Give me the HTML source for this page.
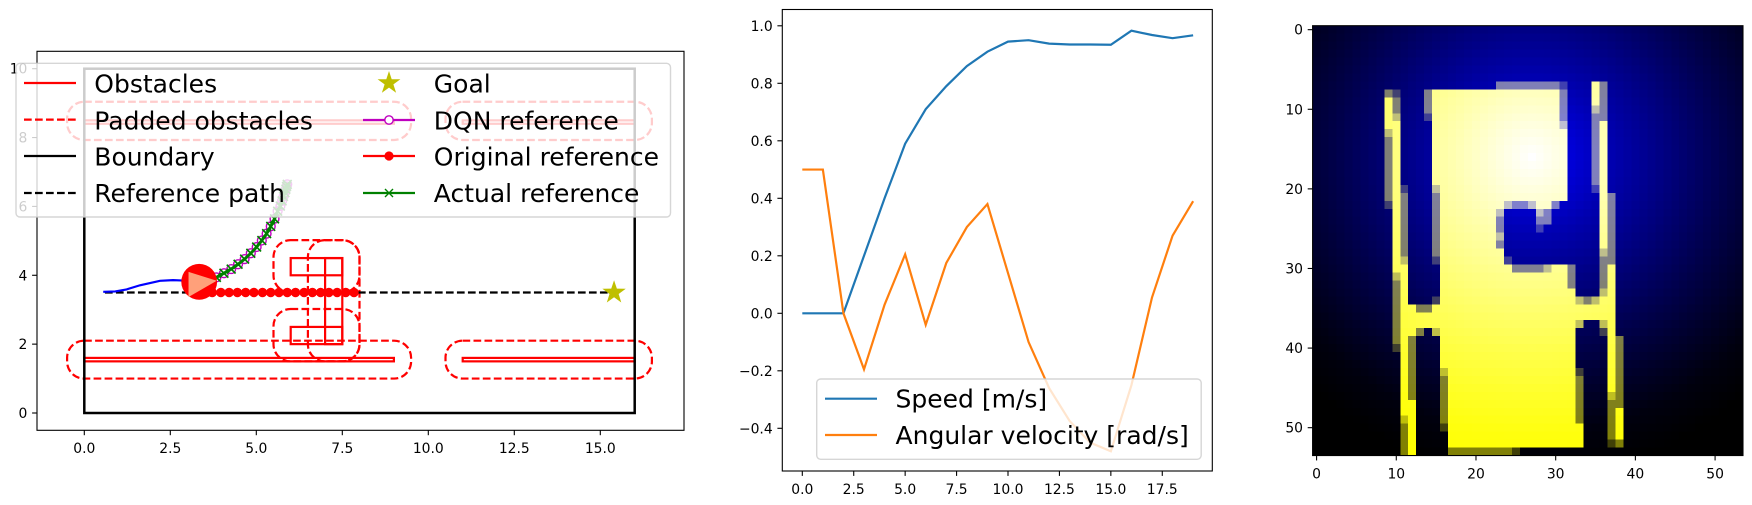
<!DOCTYPE html>
<html>
<head>
<meta charset="utf-8">
<title>Robot navigation charts</title>
<style>
html,body{margin:0;padding:0;background:#fff;width:1752px;height:505px;overflow:hidden}
svg{display:block}
text{font-family:"DejaVu Sans","Liberation Sans",sans-serif;fill:#000}
.tick{font-size:13.9px}
.leg{font-size:25px}
</style>
</head>
<body>
<svg xmlns="http://www.w3.org/2000/svg" width="1752" height="505" viewBox="0 0 1752 505">
  <rect x="0" y="0" width="1752" height="505" fill="#fff"/>

  <g id="map-chart"></g>
  <g>
    <rect x="16" y="63.3" width="654.5" height="153.7" rx="4" fill="#fff" fill-opacity="0.8" stroke="#ccc" stroke-opacity="0.8" stroke-width="1.4"/>
    <g>
      <line x1="24" x2="76" y1="83" y2="83" stroke="#f00" stroke-width="2.2"/>
      <text class="leg" x="94.3" y="92.6">Obstacles</text>
    </g>
    <g>
      <line x1="24" x2="76" y1="119.6" y2="119.6" stroke="#f00" stroke-width="2.2" stroke-dasharray="7.7 3.3"/>
      <text class="leg" x="94.3" y="129.4">Padded obstacles</text>
    </g>
    <g>
      <line x1="24" x2="76" y1="156" y2="156" stroke="#000" stroke-width="2.2"/>
      <text class="leg" x="94.3" y="165.6">Boundary</text>
    </g>
    <g>
      <line x1="24" x2="76" y1="193" y2="193" stroke="#000" stroke-width="2.2" stroke-dasharray="7.7 3.3"/>
      <text class="leg" x="94.3" y="202.2">Reference path</text>
    </g>
    <g>
      <polygon points="389,71 391.7,79.3 400.4,79.3 393.4,84.4 396.1,92.7 389,87.6 381.9,92.7 384.6,84.4 377.6,79.3 386.3,79.3" fill="#bfbf00"/>
      <text class="leg" x="433.8" y="92.6">Goal</text>
    </g>
    <g>
      <line x1="363" x2="415" y1="120" y2="120" stroke="#bf00bf" stroke-width="2.2"/>
      <circle cx="389" cy="120" r="4.2" fill="#fff" stroke="#bf00bf" stroke-width="1.4"/>
      <text class="leg" x="433.8" y="129.4">DQN reference</text>
    </g>
    <g>
      <line x1="363" x2="415" y1="156" y2="156" stroke="#f00" stroke-width="2.2"/>
      <circle cx="389" cy="156" r="4.6" fill="#f00"/>
      <text class="leg" x="433.8" y="165.6">Original reference</text>
    </g>
    <g>
      <line x1="363" x2="415" y1="193" y2="193" stroke="#008000" stroke-width="2.2"/>
      <path d="M385 189 L393 197 M393 189 L385 197" stroke="#008000" stroke-width="1.4" fill="none"/>
      <text class="leg" x="433.8" y="202.2">Actual reference</text>
    </g>
  </g>

  <g id="speed-chart"></g>
  <g>
    <rect x="816.7" y="379" width="384.5" height="80.3" rx="4" fill="#fff" fill-opacity="0.8" stroke="#ccc" stroke-opacity="0.8" stroke-width="1.4"/>
    <g>
      <line x1="825" x2="877" y1="398.7" y2="398.7" stroke="#1f77b4" stroke-width="2.2"/>
      <text class="leg" x="895.5" y="407.5">Speed [m/s]</text>
    </g>
    <g>
      <line x1="825" x2="877" y1="435" y2="435" stroke="#ff7f0e" stroke-width="2.2"/>
      <text class="leg" x="895.5" y="444">Angular velocity [rad/s]</text>
    </g>
  </g>

  <g id="heatmap-chart"></g>
</svg>

<script>
// ---------- Map panel data ----------
const mapXTicks = [0, 2.5, 5, 7.5, 10, 12.5, 15];
const mapXTickLabels = ['0.0', '2.5', '5.0', '7.5', '10.0', '12.5', '15.0'];
const mapYTicks = [0, 2, 4, 6, 8, 10];
const mapYTickLabels = ['0', '2', '4', '6', '8', '10'];
const obstacles = [[0, 9, 1.5, 1.6], [11, 16, 1.5, 1.6], [0, 9, 8.4, 8.5], [11, 16, 8.4, 8.5], [6, 7.5, 4, 4.5], [7, 7.5, 2, 4.5], [6, 7.5, 2, 2.5]];
const paddedObstacles = [[-0.5, 9.5, 1, 2.1], [10.5, 16.5, 1, 2.1], [-0.5, 9.5, 7.93, 9.04], [10.5, 16.5, 7.93, 9.04], [5.5, 8, 3.5, 5.02], [6.5, 8, 1.5, 5.02], [5.5, 8, 1.5, 3.02]];
const boundaryBox = [0, 16, 0, 10];
const refPathX = [0.6, 15.4];
const refPathY = [3.5, 3.5];
const goalPoint = [15.4, 3.5];
const robotPos = [3.34, 3.81];
const robotRadius = 0.52;
const robotTriX = [3.03, 3.85, 3.03];
const robotTriY = [4.1, 3.84, 3.37];
const trajX = [0.55, 0.9, 1.23, 1.62, 2.2, 2.58, 2.8, 3.34];
const trajY = [3.52, 3.53, 3.59, 3.71, 3.84, 3.86, 3.85, 3.81];
const originalRefX = [3.24, 3.48, 3.72, 3.97, 4.21, 4.45, 4.69, 4.93, 5.18, 5.42, 5.66, 5.9, 6.14, 6.39, 6.63, 6.87, 7.11, 7.35, 7.6, 7.84];
const originalRefY = [3.5, 3.5, 3.5, 3.5, 3.5, 3.5, 3.5, 3.5, 3.5, 3.5, 3.5, 3.5, 3.5, 3.5, 3.5, 3.5, 3.5, 3.5, 3.5, 3.5];
const dqnRefX = [3.62, 3.84, 4.06, 4.27, 4.47, 4.66, 4.84, 5.01, 5.16, 5.3, 5.42, 5.53, 5.62, 5.7, 5.75, 5.79, 5.83, 5.86, 5.88, 5.9];
const dqnRefY = [3.84, 3.94, 4.06, 4.18, 4.32, 4.47, 4.64, 4.82, 5.01, 5.21, 5.42, 5.64, 5.86, 6.01, 6.16, 6.29, 6.4, 6.5, 6.58, 6.64];

// ---------- Speed panel data ----------
const stepIndex = [0, 1, 2, 3, 4, 5, 6, 7, 8, 9, 10, 11, 12, 13, 14, 15, 16, 17, 18, 19];
const speedValues = [0, 0, 0, 0.2, 0.4, 0.59, 0.71, 0.79, 0.86, 0.91, 0.945, 0.95, 0.938, 0.935, 0.935, 0.934, 0.983, 0.968, 0.957, 0.967];
const angularValues = [0.5, 0.5, 0, -0.195, 0.03, 0.205, -0.04, 0.175, 0.3, 0.38, 0.14, -0.1, -0.26, -0.375, -0.45, -0.48, -0.25, 0.055, 0.27, 0.39];
const speedXTicks = [0, 2.5, 5, 7.5, 10, 12.5, 15, 17.5];
const speedXTickLabels = ['0.0', '2.5', '5.0', '7.5', '10.0', '12.5', '15.0', '17.5'];
const speedYTicks = [-0.4, -0.2, 0, 0.2, 0.4, 0.6, 0.8, 1];
const speedYTickLabels = ['\u22120.4', '\u22120.2', '0.0', '0.2', '0.4', '0.6', '0.8', '1.0'];

// ---------- Heatmap panel data ----------
const heatTicks = [0, 10, 20, 30, 40, 50];
const heatTickLabels = ['0', '10', '20', '30', '40', '50'];
// Blue level sampled every 5 cells of distance from the bright spot.
const blueByDistance = [255, 215, 175, 140, 105, 72, 42, 14, 0, 0, 0];
const brightSpot = [27, 16];
// Occupancy per cell: 0 empty, 1..4 quarter levels (columns 40-53 are all empty).
const occupancyRows = [
"0000000000 0000000000 0000000000 0000000000",
"0000000000 0000000000 0000000000 0000000000",
"0000000000 0000000000 0000000000 0000000000",
"0000000000 0000000000 0000000000 0000000000",
"0000000000 0000000000 0000000000 0000000000",
"0000000000 0000000000 0000000000 0000000000",
"0000000000 0000000000 0000000000 0000000000",
"0000000000 0000000000 0002222222 2100042000",
"0000000002 1000244444 4444444444 4200042000",
"0000000004 2000244444 4444444444 4200042000",
"0000000004 2000244444 4444444444 4200032000",
"0000000004 3000144444 4444444444 4200022000",
"0000000004 4000044444 4444444444 4300024000",
"0000000003 4000044444 4444444444 4400024000",
"0000000002 4000044444 4444444444 4400024000",
"0000000002 4000044444 4444444444 4400024000",
"0000000002 4000044444 4444444444 4400024000",
"0000000002 4000044444 4444444444 4400024000",
"0000000002 4000044444 4444444444 4400024000",
"0000000002 4000044444 4444444444 4400024000",
"0000000002 4100034444 4444444444 4400014000",
"0000000002 4200024444 4444444444 4400004200",
"0000000001 4200024444 4444322344 2000004200",
"0000000000 4200024444 4443000032 0000004200",
"0000000000 4200024444 4442000022 0000004200",
"0000000000 4200024444 4442000010 0000004200",
"0000000000 4200024444 4443000000 0000004200",
"0000000000 4200024444 4442000000 0000004200",
"0000000000 4200024444 4444000000 0000003200",
"0000000000 4300014444 4444100000 0000002200",
"0000000000 4400004444 4444422223 4420002400",
"0000000000 3400004444 4444444444 4420002400",
"0000000000 2400004444 4444444444 4420002400",
"0000000000 2400004444 4444444444 4440003400",
"0000000000 2400014444 4444444444 4443234400",
"0000000000 2442244444 4444444444 4444444400",
"0000000000 2444444444 4444444444 4444444400",
"0000000000 2444444444 4444444444 4443003400",
"0000000000 2442034444 4444444444 4440001400",
"0000000000 2420004444 4444444444 4440000420",
"0000000000 1420004444 4444444444 4440000420",
"0000000000 0420004444 4444444444 4440000420",
"0000000000 0420004444 4444444444 4440000420",
"0000000000 0420003444 4444444444 4441000420",
"0000000000 0420002444 4444444444 4442000420",
"0000000000 0420002444 4444444444 4442000420",
"0000000000 0420002444 4444444444 4442000320",
"0000000000 0440002444 4444444444 4442000220",
"0000000000 0440002444 4444444444 4442000240",
"0000000000 0340002444 4444444444 4442000240",
"0000000000 0240001444 4444444444 4444000240",
"0000000000 0240000444 4444444444 4444000240",
"0000000000 0240000444 4444444444 4444000120",
"0000000000 0240000222 2222210000 0000000000"
];

const NS = 'http://www.w3.org/2000/svg';
function mk(tag, attrs, parent) {
  const el = document.createElementNS(NS, tag);
  for (const k in attrs) el.setAttribute(k, attrs[k]);
  parent.appendChild(el);
  return el;
}
function polyPoints(xs, ys, sx, sy) {
  return xs.map(function (v, i) { return sx(v).toFixed(2) + ',' + sy(ys[i]).toFixed(2); }).join(' ');
}
function drawXTicks(parent, ticks, labels, sx, bottom) {
  ticks.forEach(function (t, i) {
    const tick = mk('line', { x1: sx(t), x2: sx(t), y1: bottom, y2: bottom + 4.9, stroke: '#000', 'stroke-width': 1.1 }, parent);
    
    
    const lab = mk('text', { x: sx(t), y: bottom + 22.8, 'text-anchor': 'middle', class: 'tick' }, parent);
    lab.textContent = labels[i];
    
    
  });
}
function drawYTicks(parent, ticks, labels, sy, left) {
  ticks.forEach(function (t, i) {
    const tick = mk('line', { x1: left - 4.9, x2: left, y1: sy(t), y2: sy(t), stroke: '#000', 'stroke-width': 1.1 }, parent);
    
    
    const lab = mk('text', { x: left - 9.6, y: sy(t) + 5, 'text-anchor': 'end', class: 'tick' }, parent);
    lab.textContent = labels[i];
    
    
  });
}

// ---------- Map panel ----------
(function () {
  const g = document.getElementById('map-chart');
  const sx = function (v) { return 84.3 + 34.4 * v; };
  const sy = function (v) { return 413 - 34.43 * v; };
  const frame = mk('rect', { x: 37, y: 51.3, width: 647, height: 379, fill: 'none', stroke: '#000', 'stroke-width': 1.1 }, g);
  
  
  drawXTicks(g, mapXTicks, mapXTickLabels, sx, 430.3);
  drawYTicks(g, mapYTicks, mapYTickLabels, sy, 37);

  obstacles.forEach(function (o) {
    const r = mk('rect', { x: sx(o[0]), y: sy(o[3]), width: sx(o[1]) - sx(o[0]), height: sy(o[2]) - sy(o[3]), fill: 'none', stroke: '#f00', 'stroke-width': 2.2 }, g);
    
    
  });
  paddedObstacles.forEach(function (o) {
    const r = mk('rect', { x: sx(o[0]), y: sy(o[3]), width: sx(o[1]) - sx(o[0]), height: sy(o[2]) - sy(o[3]), rx: 17, ry: 17, fill: 'none', stroke: '#f00', 'stroke-width': 2.2, 'stroke-dasharray': '7.7 3.3' }, g);
    
    
  });
  const boundary = mk('rect', { x: sx(boundaryBox[0]), y: sy(boundaryBox[3]), width: sx(boundaryBox[1]) - sx(boundaryBox[0]), height: sy(boundaryBox[2]) - sy(boundaryBox[3]), fill: 'none', stroke: '#000', 'stroke-width': 2.5 }, g);
  
  

  const refPath = mk('polyline', { points: polyPoints(refPathX, refPathY, sx, sy), fill: 'none', stroke: '#000', 'stroke-width': 2.2, 'stroke-dasharray': '7.7 3.3' }, g);
  
  

  const traj = mk('polyline', { points: polyPoints(trajX, trajY, sx, sy), fill: 'none', stroke: '#00f', 'stroke-width': 2.2 }, g);
  
  

  const gx = sx(goalPoint[0]), gy = sy(goalPoint[1]);
  const starPts = [];
  for (let i = 0; i < 10; i++) {
    const rad = i % 2 ? 4.8 : 12.3;
    const a = -Math.PI / 2 + i * Math.PI / 5;
    starPts.push((gx + rad * Math.cos(a)).toFixed(2) + ',' + (gy + rad * Math.sin(a)).toFixed(2));
  }
  const star = mk('polygon', { points: starPts.join(' '), fill: '#bfbf00' }, g);
  
  

  const origLine = mk('polyline', { points: polyPoints(originalRefX, originalRefY, sx, sy), fill: 'none', stroke: '#f00', 'stroke-width': 2.2 }, g);
  
  
  originalRefX.forEach(function (v, i) {
    const c = mk('circle', { cx: sx(v), cy: sy(originalRefY[i]), r: 4.7, fill: '#f00' }, g);
    
    
  });

  const dqnLine = mk('polyline', { points: polyPoints(dqnRefX, dqnRefY, sx, sy), fill: 'none', stroke: '#bf00bf', 'stroke-width': 2.2 }, g);
  
  
  dqnRefX.forEach(function (v, i) {
    const c = mk('circle', { cx: sx(v), cy: sy(dqnRefY[i]), r: 4.4, fill: 'none', stroke: '#bf00bf', 'stroke-width': 1.4 }, g);
    
    
  });
  const actLine = mk('polyline', { points: polyPoints(dqnRefX, dqnRefY, sx, sy), fill: 'none', stroke: '#008000', 'stroke-width': 3 }, g);
  
  
  dqnRefX.forEach(function (v, i) {
    const px = sx(v), py = sy(dqnRefY[i]);
    const m = mk('path', { d: 'M' + (px - 4.4) + ' ' + (py - 4.4) + 'L' + (px + 4.4) + ' ' + (py + 4.4) + 'M' + (px + 4.4) + ' ' + (py - 4.4) + 'L' + (px - 4.4) + ' ' + (py + 4.4), fill: 'none', stroke: '#008000', 'stroke-width': 1.7 }, g);
    
    
  });

  const robot = mk('circle', { cx: sx(robotPos[0]), cy: sy(robotPos[1]), r: robotRadius * 34.4, fill: '#f00' }, g);
  
  
  const tri = mk('polygon', { points: polyPoints(robotTriX, robotTriY, sx, sy), fill: '#ffa07a' }, g);
  
  
})();

// ---------- Speed panel ----------
(function () {
  const g = document.getElementById('speed-chart');
  const sx = function (v) { return 802.3 + 20.57 * v; };
  const sy = function (v) { return 313.3 - 287.5 * v; };
  const frame = mk('rect', { x: 782.3, y: 9.5, width: 430, height: 461.5, fill: 'none', stroke: '#000', 'stroke-width': 1.1 }, g);
  
  
  drawXTicks(g, speedXTicks, speedXTickLabels, sx, 471);
  drawYTicks(g, speedYTicks, speedYTickLabels, sy, 782.3);
  const speed = mk('polyline', { points: polyPoints(stepIndex, speedValues, sx, sy), fill: 'none', stroke: '#1f77b4', 'stroke-width': 2.2 }, g);
  
  
  const ang = mk('polyline', { points: polyPoints(stepIndex, angularValues, sx, sy), fill: 'none', stroke: '#ff7f0e', 'stroke-width': 2.2 }, g);
  
  
})();

// ---------- Heatmap panel ----------
(function () {
  const g = document.getElementById('heatmap-chart');
  const cellW = 7.97, cellH = 7.96, left = 1312.6, top = 25.7;
  const sx = function (c) { return left + (c + 0.5) * cellW; };
  const sy = function (r) { return top + (r + 0.5) * cellH; };
  function blueAt(c, r) {
    const d = Math.hypot(c - brightSpot[0], r - brightSpot[1]) / 5;
    const i = Math.min(Math.floor(d), blueByDistance.length - 2);
    const f = d - i;
    return Math.round(blueByDistance[i] * (1 - f) + blueByDistance[i + 1] * f);
  }
  const cellsG = mk('g', { 'shape-rendering': 'crispEdges' }, g);
  
  
  occupancyRows.forEach(function (row, r) {
    const chars = row.replace(/ /g, '').padEnd(54, '0');
    for (let c = 0; c < 54; c++) {
      const level = Math.min(255, Math.round(Number(chars[c]) * 63.75));
      const cell = mk('rect', {
        x: (sx(c) - cellW / 2).toFixed(2),
        y: (sy(r) - cellH / 2).toFixed(2),
        width: (cellW + 0.3).toFixed(2),
        height: (cellH + 0.3).toFixed(2),
        fill: 'rgb(' + level + ',' + level + ',' + blueAt(c, r) + ')'
      }, cellsG);
      
      
    }
  });
  const frame = mk('rect', { x: left, y: top, width: 54 * cellW, height: 54 * cellH, fill: 'none', stroke: '#000', 'stroke-width': 1.1 }, g);
  
  
  drawXTicks(g, heatTicks, heatTickLabels, sx, top + 54 * cellH);
  drawYTicks(g, heatTicks, heatTickLabels, sy, left);
})();
</script>
</body>
</html>
